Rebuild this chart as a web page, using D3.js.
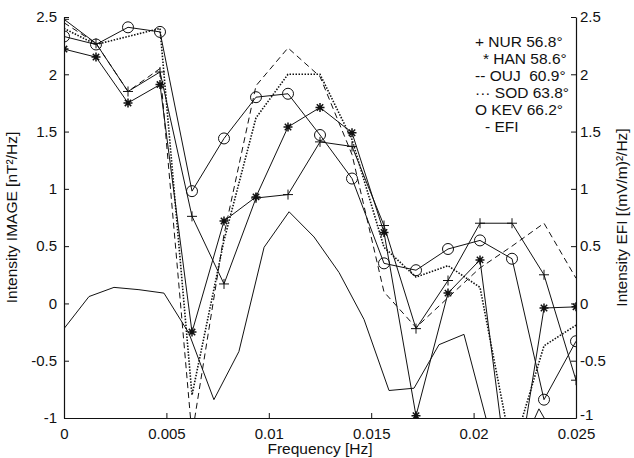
<!DOCTYPE html>
<html>
<head>
<meta charset="utf-8">
<script src="https://cdn.jsdelivr.net/npm/d3@7"></script>
<style>
  body { margin: 0; background: #fff; }
  svg { display: block; font-family: "Liberation Sans", Arial, sans-serif; }
  .tick text { font-size: 15px; fill: #111; }
</style>
</head>
<body>
<svg></svg>
<script>
// frequencies of the ground stations (IMAGE) and of EFI
let freqs = [0, 0.0015625, 0.003125, 0.0046875, 0.00625, 0.0078125, 0.009375, 0.0109375,
             0.0125, 0.0140625, 0.015625, 0.0171875, 0.01875, 0.0203125, 0.021875, 0.0234375, 0.025];
let efiFreqs = [0, 0.00122, 0.00244, 0.00366, 0.00488, 0.0061, 0.00732, 0.00854, 0.00977, 0.01099,
                0.01221, 0.01343, 0.01465, 0.01587, 0.01709, 0.01831, 0.01953, 0.02075, 0.02197, 0.02319, 0.02441];

let nur = [2.48, 2.27, 1.85, 2.02, 0.76, 0.17, 0.92, 0.95, 1.41, 1.37, 0.68, -0.22, 0.20, 0.70, 0.70, 0.25, -0.67];
let han = [2.22, 2.15, 1.75, 1.91, -0.25, 0.72, 0.93, 1.54, 1.71, 1.49, 0.62, -0.98, 0.09, 0.38, -1.8, -0.04, -0.03];
let ouj = [2.45, 2.27, 1.85, 2.05, -1.15, 0.6, 1.9, 2.23, 1.98, 1.3, 0.1, -0.21, 0.05, 0.31, 0.5, 0.70, 0.22];
let sod = [2.4, 2.26, 2.33, 2.40, -0.8, 0.55, 1.62, 2.0, 2.0, 1.43, 0.49, 0.23, 0.33, 0.14, -1.3, -0.37, -0.19];
let kev = [2.33, 2.26, 2.41, 2.37, 0.98, 1.44, 1.80, 1.83, 1.47, 1.09, 0.35, 0.29, 0.475, 0.55, 0.39, -0.84, -0.33];
let efi = [-0.22, 0.06, 0.14, 0.12, 0.09, -0.26, -0.84, -0.42, 0.49, 0.80, 0.58, 0.27, -0.14, -0.76, -0.74,
           -0.36, -0.27, -1.1, -1.4, -0.92, -1.3];

let xTicks = [0, 0.005, 0.01, 0.015, 0.02, 0.025];
let yTicks = [-1, -0.5, 0, 0.5, 1, 1.5, 2, 2.5];

let legendLines = ["+ NUR 56.8\u00b0", "* HAN 58.6\u00b0", "-- OUJ  60.9\u00b0", "\u00b7\u00b7\u00b7 SOD 63.8\u00b0", "O KEV 66.2\u00b0", "- EFI"];

let width = 634;
let height = 458;
let padLeft = 64, padRight = 576, padTop = 17, padBottom = 418;

let svg = d3.select("svg").attr("width", width).attr("height", height);

let xScale = d3.scaleLinear().domain([0, 0.025]).range([padLeft, padRight]);
let yScale = d3.scaleLinear().domain([-1, 2.5]).range([padBottom, padTop]);
let y2Scale = d3.scaleLinear().domain([-1, 2.5]).range([padBottom, padTop]);

svg.append("clipPath").attr("id", "plot")
   .append("rect")
   .attr("x", padLeft).attr("y", padTop)
   .attr("width", padRight - padLeft).attr("height", padBottom - padTop);

let ink = "#111";

// axes, ticks inward like matlab
let xAxis = d3.axisBottom(xScale).tickValues(xTicks).tickSizeInner(-5).tickSizeOuter(0)
              .tickPadding(10).tickFormat(d => d3.format("")(+d.toFixed(3)));
let yAxis = d3.axisLeft(yScale).tickValues(yTicks).tickSizeInner(-5).tickSizeOuter(0)
              .tickPadding(7).tickFormat(d => d);
let y2Axis = d3.axisRight(y2Scale).tickValues(yTicks).tickSizeInner(-5).tickSizeOuter(0)
               .tickPadding(4).tickFormat(d => d);

let gx = svg.append("g").attr("transform", "translate(0," + padBottom + ")").call(xAxis);
let gy = svg.append("g").attr("transform", "translate(" + padLeft + ",0)").call(yAxis);
let gy2 = svg.append("g").attr("transform", "translate(" + padRight + ",0)").call(y2Axis);
[gx, gy, gy2].forEach(g => {
  g.selectAll("path, line").attr("stroke", ink);
  g.select(".domain").attr("stroke-width", 1.2);
});
// the right "-1" sits a little higher than the x labels
gy2.selectAll(".tick").filter(d => d == -1).select("text").attr("dy", "0.1em");

// line series
let plot = svg.append("g").attr("clip-path", "url(#plot)");

let lineOf = (xs, scale) => d3.line().x((d, i) => xScale(xs[i])).y(d => scale(d));

let series = [
  {vals: nur, dash: null, mark: "plus"},
  {vals: han, dash: null, mark: "star"},
  {vals: ouj, dash: "6,4", mark: null},
  {vals: sod, dash: "1.5,1.5", mark: null, w: 1.6},
  {vals: kev, dash: null, mark: "circle"}
];

series.forEach(s => {
  plot.append("path")
      .datum(s.vals)
      .attr("d", lineOf(freqs, yScale))
      .attr("fill", "none")
      .attr("stroke", ink)
      .attr("stroke-width", s.w || 1)
      .attr("stroke-dasharray", s.dash);
});

plot.append("path")
    .datum(efi)
    .attr("d", lineOf(efiFreqs, y2Scale))
    .attr("fill", "none")
    .attr("stroke", ink)
    .attr("stroke-width", 1);

// markers
let shapes = {
  plus: "M-5,0H5M0,-5V5",
  star: "M-4.5,0H4.5M0,-4.5V4.5M-3.2,-3.2L3.2,3.2M-3.2,3.2L3.2,-3.2"
};

series.filter(s => s.mark).forEach(s => {
  let pts = plot.append("g").selectAll("g")
      .data(s.vals.map((v, i) => [freqs[i], v]).filter(p => p[1] >= -1.02 && p[1] <= 2.52))
      .enter().append("g")
      .attr("transform", p => "translate(" + xScale(p[0]) + "," + yScale(p[1]) + ")");
  if (s.mark == "circle") {
    pts.append("circle").attr("r", 5.5).attr("fill", "none").attr("stroke", ink).attr("stroke-width", 1);
  } else {
    pts.append("path").attr("d", shapes[s.mark]).attr("fill", "none").attr("stroke", ink)
       .attr("stroke-width", s.mark == "star" ? 1.5 : 1);
  }
});

// legend as text, matlab style
let legendX = [475, 483, 475, 475, 475, 485];
svg.append("g").selectAll("text")
   .data(legendLines)
   .enter().append("text")
   .attr("x", (d, i) => legendX[i])
   .attr("y", (d, i) => 47 + i * 17)
   .attr("font-size", 15.5)
   .attr("fill", ink)
   .attr("xml:space", "preserve")
   .style("white-space", "pre")
   .text(d => d);

// axis titles
svg.append("text")
   .attr("x", (padLeft + padRight) / 2).attr("y", 454)
   .attr("text-anchor", "middle").attr("font-size", 15.5).attr("fill", ink)
   .text("Frequency [Hz]");

svg.append("text")
   .attr("transform", "translate(17," + (padTop + padBottom) / 2 + ") rotate(-90)")
   .attr("text-anchor", "middle").attr("font-size", 15.5).attr("fill", ink)
   .text("Intensity IMAGE [nT\u00b2/Hz]");

svg.append("text")
   .attr("transform", "translate(627," + (padTop + padBottom) / 2 + ") rotate(-90)")
   .attr("text-anchor", "middle").attr("font-size", 15.5).attr("fill", ink)
   .text("Intensity EFI [(mV/m)\u00b2/Hz]");
</script>
</body>
</html>
